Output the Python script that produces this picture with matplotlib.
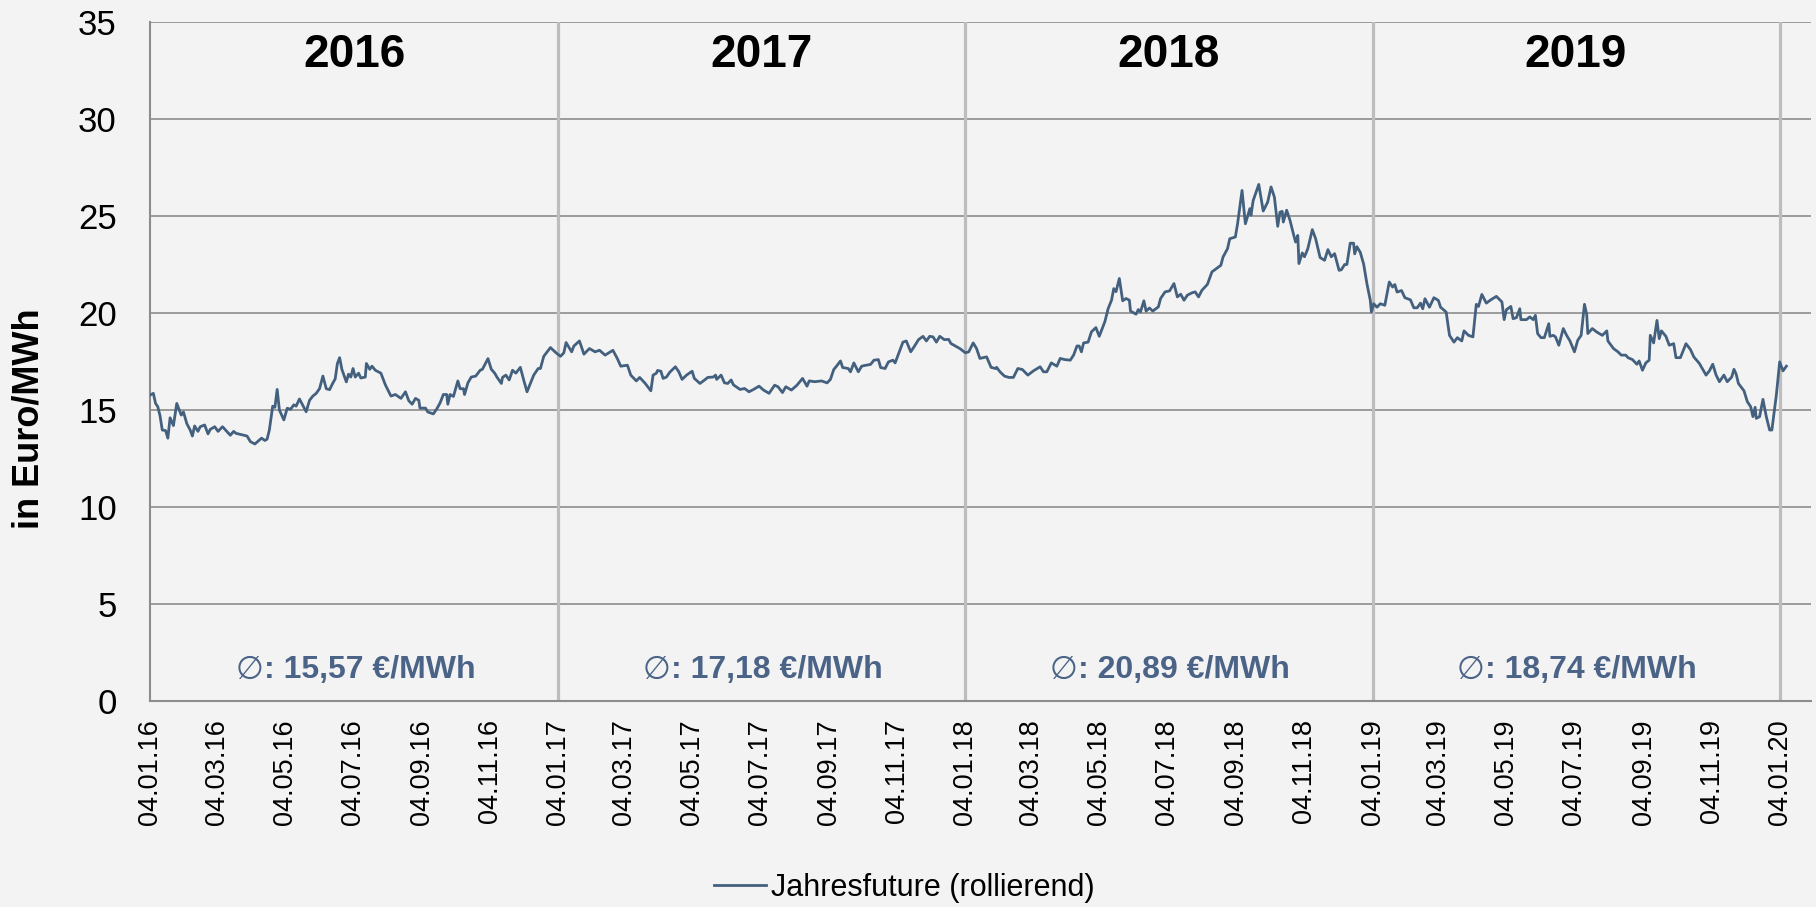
import numpy as np
import matplotlib
matplotlib.use("Agg")
import matplotlib.pyplot as plt
import matplotlib.dates as mdates
from matplotlib.transforms import offset_copy

plt.rcParams['font.family'] = ['Liberation Sans', 'DejaVu Sans']

# Data (days after 04.01.2016, price in Euro/MWh)
start_date = np.datetime64('2016-01-04')
day_offset = [
    0, 3, 5, 7, 9, 11, 14, 16, 18, 21, 24, 28, 30, 33, 36, 38, 40, 43, 45, 49,
    52, 54, 58, 61, 65, 72, 75, 77, 87, 90, 94, 100, 103, 105, 107, 110, 112, 114, 116, 120,
    123, 126, 129, 131, 134, 140, 143, 146, 149, 152, 155, 158, 161, 164, 166, 168, 170, 172, 176, 178,
    180, 182, 184, 187, 189, 193, 194, 197, 199, 202, 207, 211, 216, 220, 225, 229, 232, 235, 238, 241,
    242, 247, 249, 254, 257, 260, 263, 266, 267, 269, 272, 276, 278, 281, 282, 285, 288, 292, 296, 298,
    303, 306, 309, 311, 315, 316, 319, 322, 325, 328, 332, 335, 338, 344, 348, 350, 353, 359, 364, 368,
    371, 373, 378, 380, 385, 389, 394, 399, 403, 408, 415, 419, 422, 428, 431, 436, 439, 444, 449, 451,
    454, 455, 458, 460, 463, 466, 471, 474, 477, 481, 486, 488, 493, 497, 500, 505, 507, 508, 512, 515,
    518, 521, 523, 529, 533, 537, 541, 546, 550, 555, 560, 563, 567, 570, 575, 580, 585, 589, 591, 596,
    602, 607, 610, 613, 616, 619, 621, 626, 628, 631, 635, 638, 641, 646, 649, 653, 655, 659, 662, 666,
    668, 670, 675, 678, 682, 685, 689, 693, 696, 699, 702, 705, 708, 712, 716, 718, 726, 731, 734, 738,
    741, 744, 747, 750, 754, 758, 759, 762, 766, 770, 774, 778, 782, 787, 792, 798, 801, 804, 808, 813,
    816, 820, 825, 828, 831, 833, 835, 837, 841, 844, 848, 851, 853, 856, 859, 862, 864, 866, 869, 872,
    875, 878, 879, 884, 886, 888, 891, 893, 896, 899, 904, 906, 910, 914, 918, 921, 924, 927, 930, 934,
    937, 940, 943, 948, 952, 956, 960, 962, 966, 968, 973, 975, 979, 982, 986, 987, 989, 994, 998, 1002,
    1005, 1008, 1011, 1013, 1015, 1016, 1019, 1022, 1025, 1027, 1029, 1030, 1033, 1035, 1038, 1042, 1045, 1049, 1053, 1056,
    1059, 1062, 1066, 1068, 1071, 1073, 1076, 1079, 1080, 1082, 1085, 1088, 1091, 1094, 1095, 1097, 1100, 1103, 1107, 1111,
    1114, 1116, 1118, 1122, 1125, 1130, 1133, 1136, 1139, 1141, 1143, 1147, 1151, 1155, 1157, 1162, 1165, 1169, 1172, 1176,
    1178, 1182, 1186, 1189, 1191, 1194, 1198, 1202, 1207, 1212, 1214, 1216, 1220, 1222, 1225, 1228, 1229, 1234, 1237, 1240,
    1242, 1244, 1247, 1250, 1254, 1255, 1258, 1260, 1263, 1267, 1270, 1273, 1277, 1280, 1283, 1286, 1288, 1289, 1293, 1297,
    1302, 1306, 1307, 1312, 1316, 1319, 1323, 1325, 1329, 1333, 1335, 1338, 1341, 1344, 1345, 1348, 1351, 1353, 1355, 1359,
    1362, 1366, 1368, 1372, 1377, 1381, 1384, 1389, 1392, 1395, 1398, 1401, 1404, 1407, 1411, 1414, 1418, 1420, 1422, 1424,
    1429, 1432, 1435, 1437, 1439, 1440, 1443, 1446, 1449, 1452, 1454, 1458, 1461, 1464, 1467,
]
price = [
    15.77, 15.86, 15.34, 15.17, 14.70, 13.97, 13.94, 13.55, 14.60, 14.20, 15.34, 14.74, 14.90, 14.30, 13.97, 13.66, 14.18, 13.90, 14.14, 14.23,
    13.77, 14.00, 14.14, 13.90, 14.14, 13.70, 13.90, 13.80, 13.66, 13.37, 13.25, 13.55, 13.43, 13.50, 13.97, 15.20, 15.14, 16.06, 15.00, 14.49,
    15.09, 15.04, 15.27, 15.20, 15.57, 14.91, 15.50, 15.72, 15.86, 16.10, 16.75, 16.10, 16.05, 16.40, 16.60, 17.40, 17.70, 17.10, 16.45, 16.85,
    16.70, 17.14, 16.70, 16.90, 16.65, 16.70, 17.40, 17.10, 17.26, 17.05, 16.90, 16.30, 15.72, 15.80, 15.60, 15.94, 15.48, 15.30, 15.60, 15.50,
    15.10, 15.10, 14.90, 14.80, 15.05, 15.36, 15.80, 15.80, 15.30, 15.80, 15.70, 16.50, 16.10, 16.10, 15.80, 16.40, 16.70, 16.75, 17.05, 17.10,
    17.65, 17.10, 16.90, 16.70, 16.37, 16.68, 16.80, 16.55, 17.05, 16.90, 17.20, 16.55, 15.94, 16.80, 17.14, 17.14, 17.77, 18.22, 17.95, 17.77,
    17.95, 18.48, 18.00, 18.30, 18.56, 17.88, 18.17, 18.00, 18.08, 17.83, 18.08, 17.65, 17.26, 17.31, 16.80, 16.50, 16.68, 16.37, 15.99, 16.80,
    16.90, 17.04, 17.00, 16.63, 16.70, 16.95, 17.23, 16.98, 16.58, 16.80, 17.00, 16.63, 16.37, 16.54, 16.68, 16.70, 16.80, 16.58, 16.80, 16.40,
    16.37, 16.55, 16.30, 16.06, 16.11, 15.94, 16.06, 16.23, 16.03, 15.86, 16.28, 16.20, 15.90, 16.20, 16.03, 16.28, 16.63, 16.23, 16.50, 16.46,
    16.50, 16.40, 16.58, 17.09, 17.30, 17.53, 17.19, 17.14, 16.97, 17.43, 16.97, 17.26, 17.30, 17.35, 17.57, 17.60, 17.19, 17.14, 17.48, 17.57,
    17.43, 17.74, 18.50, 18.56, 18.00, 18.26, 18.63, 18.80, 18.56, 18.80, 18.77, 18.50, 18.80, 18.63, 18.64, 18.43, 18.17, 17.95, 18.00, 18.46,
    18.17, 17.66, 17.70, 17.74, 17.20, 17.14, 17.20, 16.97, 16.75, 16.68, 16.68, 17.14, 17.09, 16.80, 17.02, 17.23, 16.97, 16.97, 17.43, 17.26,
    17.66, 17.60, 17.57, 17.83, 18.30, 18.30, 18.00, 18.46, 18.50, 19.03, 19.25, 18.80, 19.10, 19.55, 20.23, 20.66, 21.26, 21.10, 21.78, 20.63,
    20.75, 20.66, 20.10, 19.94, 20.18, 20.06, 20.63, 20.10, 20.26, 20.10, 20.32, 20.75, 21.09, 21.14, 21.52, 20.83, 20.97, 20.66, 20.92, 21.04,
    21.09, 20.83, 21.17, 21.48, 22.12, 22.29, 22.46, 22.89, 23.32, 23.83, 23.92, 24.60, 26.32, 24.60, 25.38, 25.04, 25.80, 26.63, 25.26, 25.72,
    26.50, 25.98, 24.47, 25.20, 25.24, 24.69, 25.30, 24.78, 24.09, 23.66, 24.00, 22.55, 23.10, 22.90, 23.32, 24.30, 23.83, 22.86, 22.72, 23.27,
    22.90, 23.06, 22.20, 22.23, 22.50, 22.50, 23.60, 23.60, 23.05, 23.42, 23.13, 22.53, 21.50, 20.65, 20.05, 20.48, 20.30, 20.48, 20.40, 21.60,
    21.34, 21.47, 21.08, 21.16, 20.79, 20.68, 20.27, 20.27, 20.51, 20.22, 20.74, 20.30, 20.79, 20.65, 20.30, 20.05, 18.85, 18.50, 18.73, 18.56,
    19.08, 18.85, 18.77, 20.45, 20.34, 20.96, 20.51, 20.68, 20.86, 20.57, 19.66, 20.17, 20.34, 19.71, 19.76, 20.22, 19.66, 19.66, 19.80, 19.66,
    19.88, 18.94, 18.73, 18.73, 19.45, 18.80, 18.85, 18.77, 18.34, 19.20, 18.85, 18.56, 18.00, 18.60, 18.85, 20.45, 19.93, 18.94, 19.20, 19.02,
    18.85, 19.08, 18.56, 18.17, 18.00, 17.83, 17.83, 17.70, 17.60, 17.36, 17.53, 17.05, 17.43, 17.57, 18.85, 18.46, 19.62, 18.68, 19.08, 18.80,
    18.34, 18.42, 17.70, 17.70, 18.42, 18.12, 17.74, 17.40, 17.10, 16.80, 17.02, 17.36, 16.80, 16.46, 16.80, 16.46, 16.70, 17.10, 16.85, 16.37,
    15.99, 15.43, 15.17, 14.66, 15.14, 14.57, 14.66, 15.55, 14.66, 13.97, 13.97, 15.77, 17.48, 17.02, 17.26,
]

years = ['2016', '2017', '2018', '2019']
year_bounds = ['2016-01-04', '2017-01-04', '2018-01-04', '2019-01-04', '2020-01-04']
year_mean = ['15,57', '17,18', '20,89', '18,74']

line_color = '#44607f'
mean_color = '#4a6387'
bg = '#f3f3f3'

dates = start_date + np.array(day_offset).astype('timedelta64[D]')
bounds = np.array(year_bounds, dtype='datetime64[D]')

fig = plt.figure(figsize=(18.16, 9.07), dpi=100, facecolor=bg)
ax = fig.add_axes([0.0826, 0.2271, 0.9146, 0.7486])
ax.set_facecolor(bg)

line, = ax.plot(dates, price, color=line_color, lw=2, zorder=3,
                label='Jahresfuture (rollierend)')

# year separators
for b in bounds[1:]:
    ax.axvline(b, color='#bdbdbd', lw=2.3, zorder=1)

for i, y in enumerate(years):
    mid = bounds[i] + (bounds[i + 1] - bounds[i]) / 2
    ax.text(mid, 33.28, y, ha='center', va='center', fontsize=33, fontweight='bold')
    # bold value text, shifted right so that "∅" + text is centred
    tr = offset_copy(ax.transData, fig=fig, x=11, y=0, units='points')
    t = ax.text(mid, 1.6, ': ' + year_mean[i] + ' \u20ac/MWh', ha='center', va='center',
                fontsize=23, fontweight='bold', color=mean_color, transform=tr)
    ax.annotate('\u2205', xy=(0, 0.5), xycoords=t, ha='right', va='center',
                fontsize=23, color=mean_color, family='DejaVu Sans')

ax.set_ylim(0, 35)
ax.set_yticks(np.arange(0, 36, 5))
ax.set_xlim(start_date, np.datetime64('2020-02-01'))
ax.xaxis.set_major_locator(mdates.MonthLocator(bymonth=[1, 3, 5, 7, 9, 11], bymonthday=4))
ax.xaxis.set_major_formatter(mdates.DateFormatter('%d.%m.%y'))
plt.setp(ax.get_xticklabels(), rotation=90, ha='center', va='top')

ax.yaxis.grid(True, color='#8c8c8c', lw=1.2, zorder=0)
ax.set_axisbelow(True)
ax.tick_params(axis='y', length=0, pad=24, labelsize=25)
ax.tick_params(axis='x', length=0, pad=13, labelsize=19.5)

for s in ['top', 'right']:
    ax.spines[s].set_visible(False)
for s in ['left', 'bottom']:
    ax.spines[s].set_color('#8c8c8c')
    ax.spines[s].set_linewidth(1.5)

fig.text(0.016, 0.538, 'in Euro/MWh', rotation=90, ha='center', va='center',
         fontsize=26, fontweight='bold')

fig.legend(handles=[line], loc='center', bbox_to_anchor=(0.498, 0.021), frameon=False,
           fontsize=22, handlelength=1.7, handletextpad=0.15)

fig.savefig('out.png', dpi=100, facecolor=bg)
